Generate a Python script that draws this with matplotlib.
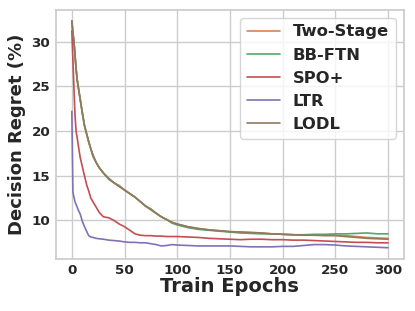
import matplotlib
matplotlib.use("Agg")
import matplotlib.pyplot as plt
import seaborn as sns

sns.set_theme(style="whitegrid")
plt.rcParams['font.family'] = ['DejaVu Sans']

epochs = [0, 1, 2, 3, 4, 5, 6, 8, 10, 12, 14, 16, 18, 20, 23, 26, 30, 35, 40, 45,
          50, 55, 60, 65, 70, 75, 80, 85, 90, 95, 100, 110, 120, 130, 140, 150,
          160, 170, 180, 190, 200, 210, 220, 230, 240, 250, 260, 270, 280, 290, 300]

lodl = [32.3, 31.0, 30.0, 28.5, 27.0, 25.8, 25.0, 23.5, 22.0, 20.6, 19.7, 18.8, 18.0,
        17.2, 16.5, 15.9, 15.3, 14.7, 14.2, 13.8, 13.4, 13.0, 12.6, 12.1, 11.6, 11.2,
        10.8, 10.4, 10.1, 9.8, 9.6, 9.3, 9.1, 8.95, 8.85, 8.75, 8.7, 8.65, 8.6, 8.5,
        8.45, 8.4, 8.35, 8.35, 8.3, 8.3, 8.2, 8.1, 8.0, 7.95, 7.9]

two_stage = [32.3, 31.0, 30.0, 28.5, 27.0, 25.8, 25.0, 23.5, 22.0, 20.6, 19.7, 18.8, 18.0,
             17.2, 16.5, 15.9, 15.3, 14.7, 14.2, 13.8, 13.4, 13.0, 12.6, 12.1, 11.6, 11.2,
             10.8, 10.4, 10.1, 9.8, 9.6, 9.3, 9.1, 8.95, 8.85, 8.75, 8.7, 8.65, 8.6, 8.5,
             8.45, 8.4, 8.35, 8.35, 8.35, 8.35, 8.3, 8.2, 8.1, 8.05, 8.0]

bb_ftn = [32.3, 31.0, 30.0, 28.5, 27.0, 25.8, 25.0, 23.5, 22.0, 20.6, 19.7, 18.8, 18.0,
          17.4, 16.5, 15.9, 15.3, 14.6, 14.2, 13.9, 13.4, 13.0, 12.6, 12.1, 11.6, 11.3,
          10.8, 10.4, 10.1, 9.7, 9.5, 9.2, 9.0, 8.9, 8.8, 8.7, 8.6, 8.55, 8.5, 8.5,
          8.45, 8.4, 8.4, 8.45, 8.45, 8.5, 8.5, 8.55, 8.6, 8.5, 8.5]

spo = [31.2, 28.0, 24.8, 21.8, 20.0, 19.3, 18.5, 17.0, 16.0, 15.0, 14.0, 13.3, 12.5,
       12.1, 11.5, 10.9, 10.4, 10.3, 10.0, 9.6, 9.3, 8.9, 8.5, 8.35, 8.3, 8.3, 8.25,
       8.25, 8.2, 8.2, 8.2, 8.15, 8.1, 8.0, 7.95, 7.9, 7.85, 7.9, 7.9, 7.85, 7.85, 7.8,
       7.8, 7.75, 7.7, 7.65, 7.6, 7.55, 7.55, 7.5, 7.5]

ltr = [22.2, 13.2, 12.6, 12.1, 11.8, 11.5, 11.2, 10.7, 9.9, 9.3, 8.8, 8.3, 8.15, 8.1,
       8.0, 7.95, 7.9, 7.8, 7.75, 7.7, 7.6, 7.55, 7.55, 7.5, 7.5, 7.4, 7.3, 7.15, 7.2,
       7.3, 7.25, 7.2, 7.15, 7.15, 7.15, 7.15, 7.1, 7.05, 7.05, 7.05, 7.1, 7.1, 7.2,
       7.3, 7.3, 7.25, 7.15, 7.1, 7.05, 7.0, 6.95]

series = [("Two-Stage", two_stage), ("BB-FTN", bb_ftn), ("SPO+", spo),
          ("LTR", ltr), ("LODL", lodl)]
pal = sns.color_palette("deep")
colors = [pal[1], pal[2], pal[3], pal[4], pal[5]]

fig = plt.figure(figsize=(4.15, 3.11), dpi=100)
ax = fig.add_axes([0.135, 0.167, 0.838, 0.802])
for (name, vals), c in zip(series, colors):
    ax.plot(epochs, vals, color=c, lw=1.2, label=name)

ax.set_xticks([0, 50, 100, 150, 200, 250, 300])
ax.set_yticks([10, 15, 20, 25, 30])
for lab in ax.get_xticklabels() + ax.get_yticklabels():
    lab.set_fontweight("bold")
    lab.set_fontsize(9.7)
ax.tick_params(axis="x", length=0, pad=3.6)
ax.tick_params(axis="y", length=0, pad=4.2)
ax.set_xlabel("Train Epochs", fontsize=14, fontweight="bold", labelpad=0)
ax.set_ylabel("Decision Regret (%)", fontsize=13, fontweight="bold", labelpad=4)
leg = ax.legend(loc="upper right", prop={"weight": "bold", "size": 11.8},
                borderaxespad=0.5)
fig.savefig("out.png", dpi=100)
